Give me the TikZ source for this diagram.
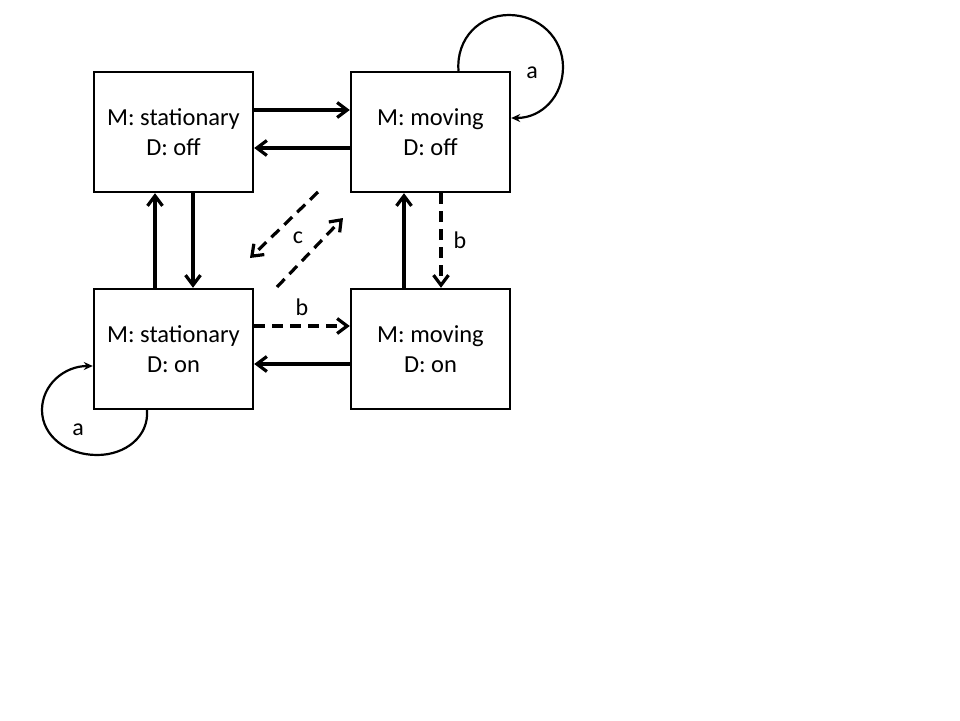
\documentclass[tikz,border=0pt]{standalone}
\usepackage{fontspec}
\setmainfont{Carlito}
\usetikzlibrary{arrows.meta}
\begin{document}
\begin{tikzpicture}[x=1pt,y=-1pt,
  state/.style={draw,line width=2.4pt,minimum width=159pt,minimum height=120pt,inner sep=0pt,align=center,font=\fontsize{24.5}{30}\selectfont},
  tr/.style={line width=3.2pt,-{Straight Barb[length=10pt,width=15pt]}},
  dsh/.style={tr,dash pattern=on 11pt off 7pt},
  loopa/.style={line width=2.2pt,-{Stealth[length=9pt,width=8pt]}},
  lbl/.style={font=\fontsize{24}{28}\selectfont,inner sep=0pt}]
\useasboundingbox[fill=white] (0,0) rectangle (960,720);
\node[state] (tl) at (173.5,132) {M: stationary\\D: off};
\node[state] (tr) at (430.5,132) {M: moving\\D: off};
\node[state] (bl) at (173.5,349) {M: stationary\\D: on};
\node[state] (br) at (430.5,349) {M: moving\\D: on};
% horizontal top
\draw[tr] ([yshift=22pt]tl.east) -- ([yshift=22pt]tr.west);
\draw[tr] ([yshift=-16pt]tr.west) -- ([yshift=-16pt]tl.east);
% vertical left
\draw[tr] ([xshift=-18.5pt]bl.north) -- ([xshift=-18.5pt]tl.south);
\draw[tr] ([xshift=19.5pt]tl.south) -- ([xshift=19.5pt]bl.north);
% vertical right
\draw[tr] ([xshift=-26.5pt]br.north) -- ([xshift=-26.5pt]tr.south);
\draw[dsh] ([xshift=10.5pt]tr.south) -- node[lbl,right=11pt] {b} ([xshift=10.5pt]br.north);
% horizontal bottom
\draw[dsh] ([yshift=23pt]bl.east) -- node[lbl,above=9pt] {b} ([yshift=23pt]br.west);
\draw[tr] ([yshift=-15pt]br.west) -- ([yshift=-15pt]bl.east);
% diagonals
\coordinate (d1s) at (318,192);
\coordinate (d1e) at (250,258);
\coordinate (d2s) at (277,287);
\coordinate (d2e) at (343,218);
\draw[dsh] (d1s) -- (d1e);
\draw[dsh] (d2s) -- (d2e);
\node[lbl] (c) at (298,238) {c};
% self loops
\draw[loopa] ([xshift=28pt]tr.north) .. controls (456,38) and (480,15) .. (509,15)
  .. controls (539,15) and (563,38) .. (563,67)
  .. controls (563,96) and (542,118) .. ([yshift=14pt]tr.east);
\node[lbl] (a1) at (532,73) {a};
\draw[loopa] ([xshift=-26.5pt]bl.south) .. controls (149,436) and (126,455) .. (97,455)
  .. controls (67,455) and (42,436) .. (42,410)
  .. controls (42,385) and (64,366) .. ([yshift=-17pt]bl.west);
\node[lbl] (a2) at (78,430) {a};
\end{tikzpicture}
\end{document}
